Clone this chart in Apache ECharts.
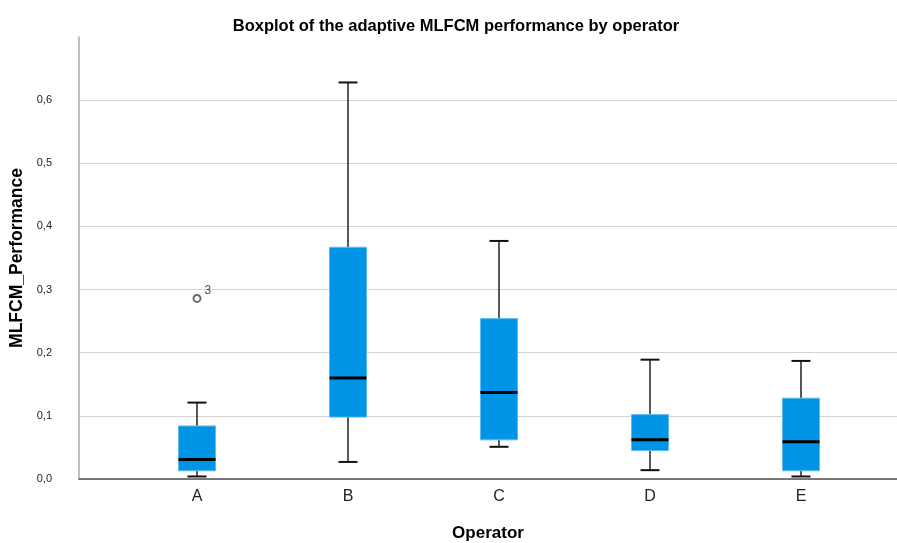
<!DOCTYPE html>
<html>
<head>
<meta charset="utf-8">
<script src="https://cdn.jsdelivr.net/npm/echarts@6/dist/echarts.min.js"></script>
<style>html,body{margin:0;padding:0;background:#fff;}#c{width:897px;height:543px;}</style>
</head>
<body>
<div id="c"></div>
<script>
var categories = ['A', 'B', 'C', 'D', 'E'];
var lowerWhisker = [0.004, 0.027, 0.051, 0.014, 0.004];
var q1 = [0.013, 0.098, 0.062, 0.045, 0.013];
var median = [0.031, 0.160, 0.137, 0.062, 0.059];
var q3 = [0.084, 0.367, 0.254, 0.102, 0.128];
var upperWhisker = [0.121, 0.628, 0.377, 0.189, 0.187];
var outlierCat = ['A'];
var outlierVal = [0.286];
var outlierId = ['3'];
var yTicks = [0, 0.1, 0.2, 0.3, 0.4, 0.5, 0.6];

var FONT = 'Liberation Sans, Arial, sans-serif';
var chart = echarts.init(document.getElementById('c'), null, {renderer: 'canvas'});

var boxData = categories.map(function (c, i) {
  return [i, lowerWhisker[i], q1[i], median[i], q3[i], upperWhisker[i]];
});
var outlierData = outlierCat.map(function (c, i) {
  return {value: [categories.indexOf(c), outlierVal[i]], name: outlierId[i]};
});

var gridColors = [];
for (var k = 0; k < 8; k++) gridColors.push(k === 7 ? 'rgba(0,0,0,0)' : '#d3d3d3');

chart.setOption({
  animation: false,
  backgroundColor: '#fff',
  title: {
    text: 'Boxplot of the adaptive MLFCM performance by operator',
    left: 451, top: 13, textAlign: 'center',
    textStyle: {fontFamily: FONT, fontSize: 16.5, fontWeight: 'bold', color: '#000'}
  },
  grid: [
    {left: 79, right: 0, top: 37, bottom: 64, containLabel: false, outerBoundsMode: 'none'},
    {left: 121.5, right: 20.5, top: 37, bottom: 64, containLabel: false, outerBoundsMode: 'none'}
  ],
  xAxis: [
    {type: 'value', gridIndex: 0, min: 0, max: 1,
     axisLine: {show: true, lineStyle: {color: '#555', width: 1.5}},
     axisTick: {show: false}, axisLabel: {show: false}, splitLine: {show: false},
     name: 'Operator', nameLocation: 'middle', nameGap: 46,
     nameTextStyle: {fontFamily: FONT, fontSize: 17, fontWeight: 'bold', color: '#000'}
    },
    {type: 'category', gridIndex: 1, data: categories,
     axisLine: {show: false}, axisTick: {show: false},
     axisLabel: {fontFamily: FONT, fontSize: 16, color: '#222', margin: 10},
     splitLine: {show: false}
    }
  ],
  yAxis: [
    {type: 'value', gridIndex: 0, min: 0, max: 0.7, interval: 0.1,
     axisLine: {show: true, lineStyle: {color: '#aaa', width: 1.5}},
     axisTick: {show: false},
     axisLabel: {fontFamily: FONT, fontSize: 11, color: '#222', margin: 27,
       formatter: function (v) {
         var r = Math.round(v * 10) / 10;
         if (yTicks.indexOf(r) < 0) return '';
         return r.toFixed(1).replace('.', ',');
       }},
     splitLine: {show: true, lineStyle: {color: gridColors, width: 1.2}},
     name: 'MLFCM_Performance', nameLocation: 'middle', nameGap: 48, nameRotate: 90,
     nameTextStyle: {fontFamily: FONT, fontSize: 17.5, fontWeight: 'bold', color: '#000'}
    },
    {type: 'value', gridIndex: 1, min: 0, max: 0.7, interval: 0.1,
     axisLine: {show: false}, axisTick: {show: false}, axisLabel: {show: false}, splitLine: {show: false}
    }
  ],
  series: [
    {
      type: 'custom', xAxisIndex: 1, yAxisIndex: 1, data: boxData,
      encode: {x: 0, y: [1, 2, 3, 4, 5]},
      renderItem: function (params, api) {
        var x = api.value(0);
        var pLo = api.coord([x, api.value(1)]);
        var pQ1 = api.coord([x, api.value(2)]);
        var pMed = api.coord([x, api.value(3)]);
        var pQ3 = api.coord([x, api.value(4)]);
        var pHi = api.coord([x, api.value(5)]);
        var cx = pMed[0];
        var bw = 37, cw = 19;
        var wStyle = {stroke: '#222', lineWidth: 1.5};
        return {
          type: 'group',
          children: [
            {type: 'line', shape: {x1: cx, y1: pHi[1], x2: cx, y2: pQ3[1]}, style: wStyle},
            {type: 'line', shape: {x1: cx, y1: pQ1[1], x2: cx, y2: pLo[1]}, style: wStyle},
            {type: 'line', shape: {x1: cx - cw / 2, y1: pHi[1], x2: cx + cw / 2, y2: pHi[1]}, style: {stroke: '#111', lineWidth: 2}},
            {type: 'line', shape: {x1: cx - cw / 2, y1: pLo[1], x2: cx + cw / 2, y2: pLo[1]}, style: {stroke: '#111', lineWidth: 2}},
            {type: 'rect', shape: {x: cx - bw / 2, y: pQ3[1], width: bw, height: pQ1[1] - pQ3[1]},
             style: {fill: '#0094e6', stroke: '#5fbaf2', lineWidth: 1}},
            {type: 'line', shape: {x1: cx - bw / 2, y1: pMed[1], x2: cx + bw / 2, y2: pMed[1]}, style: {stroke: '#000', lineWidth: 3}}
          ]
        };
      }
    },
    {
      type: 'scatter', xAxisIndex: 1, yAxisIndex: 1, data: outlierData,
      symbol: 'emptyCircle', symbolSize: 7,
      itemStyle: {color: '#444', borderColor: '#444', borderWidth: 1},
      label: {show: true, formatter: '{b}', position: 'right', offset: [-2, -8],
        fontFamily: FONT, fontSize: 12, color: '#222'}
    }
  ]
});
</script>
</body>
</html>
